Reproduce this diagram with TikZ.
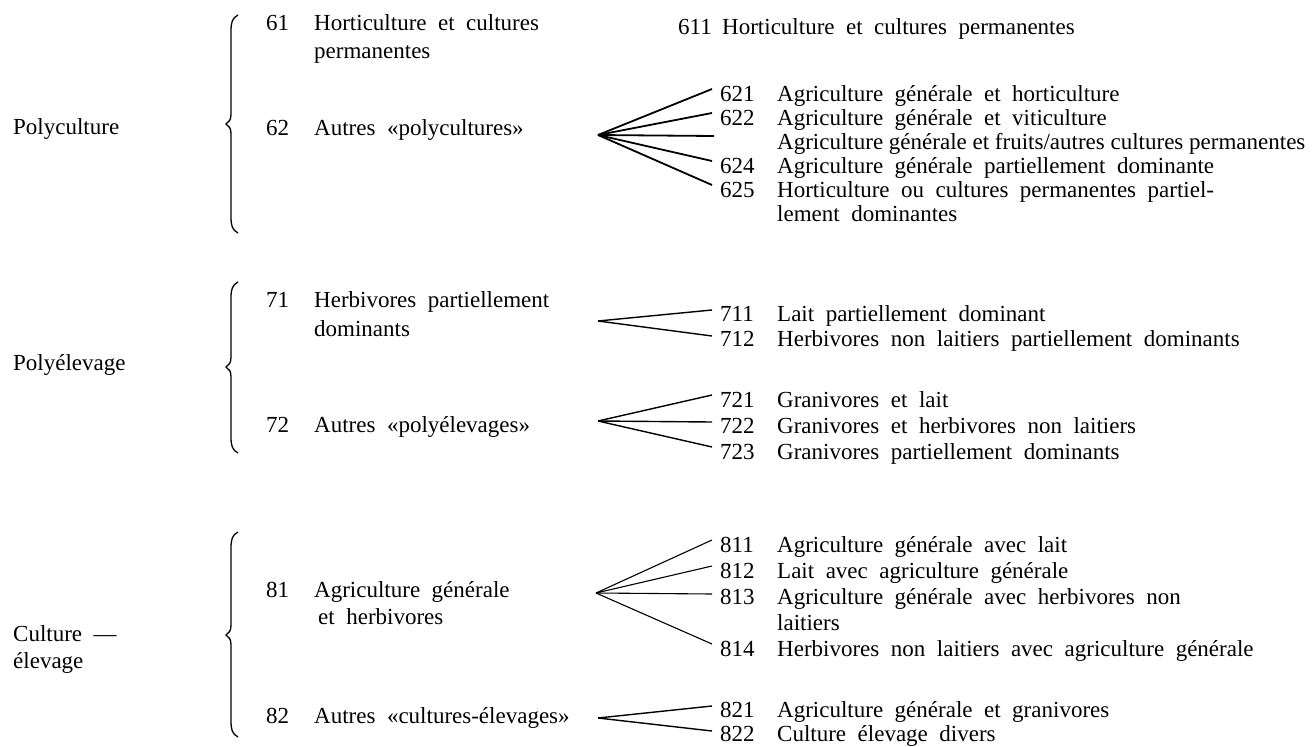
\documentclass[tikz,border=0pt]{standalone}
\usepackage{fontspec}
\setmainfont{Liberation Serif}[WordSpace=2]
\newfontfamily\tightfont{Liberation Serif}

% curly bracket: x, top, tip, bottom
\newcommand{\accolade}[4]{%
  \draw[brc] (#1+7,#2) .. controls (#1+1,#2+3) and (#1,#2+8) .. (#1,#2+16)
    -- (#1,#3-10) .. controls (#1,#3-4) and (#1-2,#3-2) .. (#1-5,#3)
    .. controls (#1-2,#3+2) and (#1,#3+4) .. (#1,#3+10)
    -- (#1,#4-16) .. controls (#1,#4-8) and (#1+1,#4-3) .. (#1+7,#4);}

\begin{document}
\begin{tikzpicture}[x=1pt, y=-1pt,
    txt/.style={anchor=base west, inner sep=0pt, font=\fontsize{23}{24}\selectfont},
    tight/.style={font=\tightfont\fontsize{23}{24}\selectfont},
    brc/.style={line width=1.3pt},
    fan/.style={line width=1.4pt}]
    \useasboundingbox (0,0) rectangle (1312,747);

    % Left labels
    \node[txt] (polyc) at (13,134) {Polyculture};
    \node[txt] (polye) at (13,370) {Polyélevage};
    \node[txt] (cult) at (13,641) {Culture ---};
    \node[txt] (elev) at (13,668) {élevage};

    % Brackets
    \accolade{231}{15}{124}{233}
    \accolade{231}{282}{367}{453}
    \accolade{231}{532}{635}{737}

    % Middle column
    \node[txt] (m61) at (266,30) {61};
    \node[txt] (t61) at (314,30) {Horticulture et cultures};
    \node[txt] (t61b) at (314,58) {permanentes};
    \node[txt] (m62) at (266,135) {62};
    \node[txt] (t62) at (314,135) {Autres «polycultures»};
    \node[txt] (m71) at (266,307) {71};
    \node[txt] (t71) at (314,307) {Herbivores partiellement};
    \node[txt] (t71b) at (314,336) {dominants};
    \node[txt] (m72) at (266,432) {72};
    \node[txt] (t72) at (314,432) {Autres «polyélevages»};
    \node[txt] (m81) at (266,597) {81};
    \node[txt] (t81) at (314,597) {Agriculture générale};
    \node[txt] (t81b) at (318,624) {et herbivores};
    \node[txt] (m82) at (266,723) {82};
    \node[txt] (t82) at (314,723) {Autres «cultures-élevages»};

    % Right column, group 6
    \node[txt] (n611) at (678,34) {611};
    \node[txt] (r611) at (722,34) {Horticulture et cultures permanentes};
    \node[txt] (n621) at (720,101) {621};
    \node[txt] (r621) at (777,101) {Agriculture générale et horticulture};
    \node[txt] (n622) at (720,125) {622};
    \node[txt] (r622) at (777,125) {Agriculture générale et viticulture};
    \node[txt, tight] (r623) at (777,149) {Agriculture générale et fruits/autres cultures permanentes};
    \node[txt] (n624) at (720,173) {624};
    \node[txt] (r624) at (777,173) {Agriculture générale partiellement dominante};
    \node[txt] (n625) at (720,197) {625};
    \node[txt] (r625) at (777,197) {Horticulture ou cultures permanentes partiel-};
    \node[txt] (r625b) at (777,221) {lement dominantes};

    % Right column, group 7
    \node[txt] (n711) at (720,321) {711};
    \node[txt] (r711) at (777,321) {Lait partiellement dominant};
    \node[txt] (n712) at (720,346) {712};
    \node[txt] (r712) at (777,346) {Herbivores non laitiers partiellement dominants};
    \node[txt] (n721) at (720,407) {721};
    \node[txt] (r721) at (777,407) {Granivores et lait};
    \node[txt] (n722) at (720,433) {722};
    \node[txt] (r722) at (777,433) {Granivores et herbivores non laitiers};
    \node[txt] (n723) at (720,459) {723};
    \node[txt] (r723) at (777,459) {Granivores partiellement dominants};

    % Right column, group 8
    \node[txt] (n811) at (720,552) {811};
    \node[txt] (r811) at (777,552) {Agriculture générale avec lait};
    \node[txt] (n812) at (720,578) {812};
    \node[txt] (r812) at (777,578) {Lait avec agriculture générale};
    \node[txt] (n813) at (720,604) {813};
    \node[txt] (r813) at (777,604) {Agriculture générale avec herbivores non};
    \node[txt] (r813b) at (777,630) {laitiers};
    \node[txt] (n814) at (720,656) {814};
    \node[txt] (r814) at (777,656) {Herbivores non laitiers avec agriculture générale};
    \node[txt] (n821) at (720,717) {821};
    \node[txt] (r821) at (777,717) {Agriculture générale et granivores};
    \node[txt] (n822) at (720,741) {822};
    \node[txt] (r822) at (777,741) {Culture élevage divers};

    % Fan points
    \coordinate (a62) at (598,135);
    \coordinate (e621) at (712,89);
    \coordinate (e622) at (712,113);
    \coordinate (e623) at (714,136);
    \coordinate (e624) at (712,161);
    \coordinate (e625) at (712,185);
    \coordinate (a71) at (598,321);
    \coordinate (e711) at (712,310);
    \coordinate (e712) at (712,336);
    \coordinate (a72) at (598,421);
    \coordinate (e721) at (712,395);
    \coordinate (e722) at (712,422);
    \coordinate (e723) at (712,447);
    \coordinate (a81) at (596,593);
    \coordinate (e811) at (712,540);
    \coordinate (e812) at (712,566);
    \coordinate (e813) at (712,594);
    \coordinate (e814) at (712,644);
    \coordinate (a82) at (598,718);
    \coordinate (e821) at (712,706);
    \coordinate (e822) at (712,731);

    % Fans
    \foreach \e in {e621,e622,e623,e624,e625}
        \draw[fan, line width=1.8pt] (a62) -- (\e);
    \foreach \e in {e711,e712}
        \draw[fan] (a71) -- (\e);
    \foreach \e in {e721,e722,e723}
        \draw[fan] (a72) -- (\e);
    \foreach \e in {e811,e812,e813,e814}
        \draw[fan, line width=1.1pt] (a81) -- (\e);
    \foreach \e in {e821,e822}
        \draw[fan] (a82) -- (\e);
\end{tikzpicture}
\end{document}
